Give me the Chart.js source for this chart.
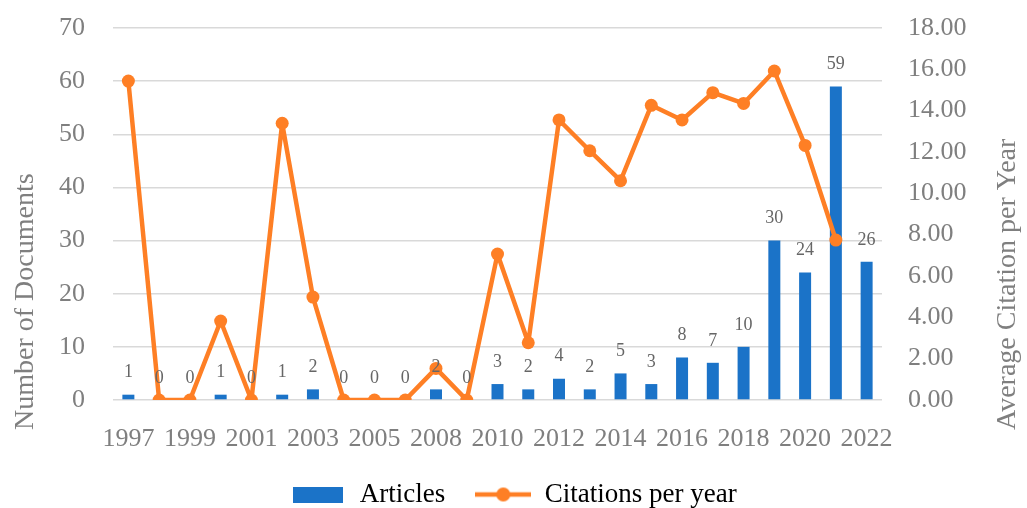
<!DOCTYPE html>
<html>
<head>
<meta charset="utf-8">
<title>Documents and citations per year</title>
<script src="https://cdn.jsdelivr.net/npm/chart.js@4/dist/chart.umd.min.js"></script>
<style>
  html, body { margin: 0; padding: 0; background: #ffffff; }
</style>
</head>
<body>
<canvas id="docsChart" width="1027" height="508"></canvas>
<script>
// data (no 2007 in the source)
const years = ['1997', '1998', '1999', '2000', '2001', '2002', '2003', '2004', '2005', '2006',
  '2008', '2009', '2010', '2011', '2012', '2013', '2014', '2015', '2016', '2017',
  '2018', '2019', '2020', '2021', '2022'];
const articles = [1, 0, 0, 1, 0, 1, 2, 0, 0, 0, 2, 0, 3, 2, 4, 2, 5, 3, 8, 7, 10, 30, 24, 59, 26];
const citationsPerYear = [15.43, 0, 0, 3.82, 0, 13.39, 4.98, 0, 0, 0, 1.53, 0, 7.06, 2.77,
  13.55, 12.06, 10.61, 14.26, 13.55, 14.87, 14.35, 15.92, 12.32, 7.74, null];
const seriesNames = ['Articles', 'Citations per year'];
const axisTitles = ['Number of Documents', 'Average Citation per Year'];

const BLUE = '#1b73c8';
const ORANGE = '#fe7f25';
const GRAY = '#7f7f7f';
const FONT = '"Liberation Serif", "Times New Roman", serif';

// legend icons: a wide box for the bars, a line with a dot for the line
function makeIcon(kind) {
  const c = document.createElement('canvas');
  const g = c.getContext('2d');
  if (kind === 'bar') {
    c.width = 50; c.height = 16;
    g.fillStyle = BLUE;
    g.fillRect(0, 0, 50, 16);
  } else {
    c.width = 56; c.height = 16;
    g.strokeStyle = ORANGE;
    g.lineWidth = 4.5;
    g.beginPath(); g.moveTo(0, 8); g.lineTo(56, 8); g.stroke();
    g.fillStyle = ORANGE;
    g.beginPath(); g.arc(28, 8, 7, 0, Math.PI * 2); g.fill();
  }
  return c;
}

// value labels above each bar
const barLabels = {
  id: 'barLabels',
  afterDatasetsDraw(chart) {
    const ctx = chart.ctx;
    const meta = chart.getDatasetMeta(0);
    ctx.save();
    ctx.font = '18px ' + FONT;
    ctx.fillStyle = '#666666';
    ctx.textAlign = 'center';
    ctx.textBaseline = 'middle';
    meta.data.forEach((bar, i) => {
      ctx.fillText(String(articles[i]), bar.x, bar.y - 22);
    });
    ctx.restore();
  }
};

// rotated axis titles, placed like the original
const axisTitlePlugin = {
  id: 'axisTitlePlugin',
  afterDraw(chart) {
    const ctx = chart.ctx;
    ctx.save();
    ctx.font = '28px ' + FONT;
    ctx.fillStyle = GRAY;
    ctx.textAlign = 'left';
    ctx.textBaseline = 'alphabetic';
    [[33, axisTitles[0]], [1015, axisTitles[1]]].forEach(([x, text]) => {
      ctx.save();
      ctx.translate(x, 430);
      ctx.rotate(-Math.PI / 2);
      ctx.fillText(text, 0, 0);
      ctx.restore();
    });
    ctx.restore();
  }
};

// fixed side widths; keep tick padding from pushing the plot down
function fitSide(width) {
  return s => {
    s.width = width;
    s.paddingTop = 28;
    s.paddingBottom = 0;
  };
}

const ctx = document.getElementById('docsChart').getContext('2d');

new Chart(ctx, {
  type: 'bar',
  data: {
    labels: years,
    datasets: [
      {
        label: seriesNames[0],
        data: articles,
        backgroundColor: BLUE,
        barPercentage: 0.39,
        categoryPercentage: 1,
        yAxisID: 'y',
        order: 2
      },
      {
        type: 'line',
        label: seriesNames[1],
        data: citationsPerYear,
        borderColor: ORANGE,
        backgroundColor: ORANGE,
        borderWidth: 4.5,
        borderJoinStyle: 'round',
        borderCapStyle: 'round',
        pointRadius: 6.5,
        pointBackgroundColor: ORANGE,
        pointBorderColor: ORANGE,
        pointBorderWidth: 0,
        tension: 0,
        fill: false,
        yAxisID: 'y1',
        order: 1
      }
    ]
  },
  options: {
    responsive: false,
    animation: false,
    layout: { padding: { top: 0, bottom: -10 } },
    plugins: {
      tooltip: { enabled: false },
      legend: {
        position: 'bottom',
        labels: {
          usePointStyle: true,
          pointStyleWidth: 56,
          boxHeight: 16,
          padding: 30,
          color: GRAY,
          font: { family: FONT, size: 27 },
          generateLabels: () => [
            { text: seriesNames[0], pointStyle: makeIcon('bar'), fillStyle: BLUE, strokeStyle: BLUE, lineWidth: 0, hidden: false, datasetIndex: 0 },
            { text: seriesNames[1], pointStyle: makeIcon('line'), fillStyle: ORANGE, strokeStyle: ORANGE, lineWidth: 0, hidden: false, datasetIndex: 1 }
          ]
        }
      }
    },
    scales: {
      x: {
        afterFit: s => { s.height = 51; },
        grid: { display: false },
        border: { display: false },
        ticks: {
          autoSkip: false,
          maxRotation: 0,
          padding: 16,
          color: GRAY,
          font: { family: FONT, size: 26 },
          callback: (v, i) => (i % 2 === 0 ? years[i] : '')
        }
      },
      y: {
        position: 'left',
        min: 0,
        max: 70,
        afterFit: fitSide(113),
        grid: { color: '#d9d9d9', lineWidth: 1.4, drawTicks: false },
        border: { display: false },
        ticks: {
          stepSize: 10,
          padding: 28,
          color: GRAY,
          font: { family: FONT, size: 26 }
        }
      },
      y1: {
        position: 'right',
        min: 0,
        max: 18,
        afterFit: fitSide(145),
        grid: { display: false, drawTicks: false },
        border: { display: false },
        ticks: {
          stepSize: 2,
          padding: 26,
          color: GRAY,
          font: { family: FONT, size: 26 },
          callback: v => v.toFixed(2)
        }
      }
    }
  },
  plugins: [barLabels, axisTitlePlugin]
});
</script>
</body>
</html>
